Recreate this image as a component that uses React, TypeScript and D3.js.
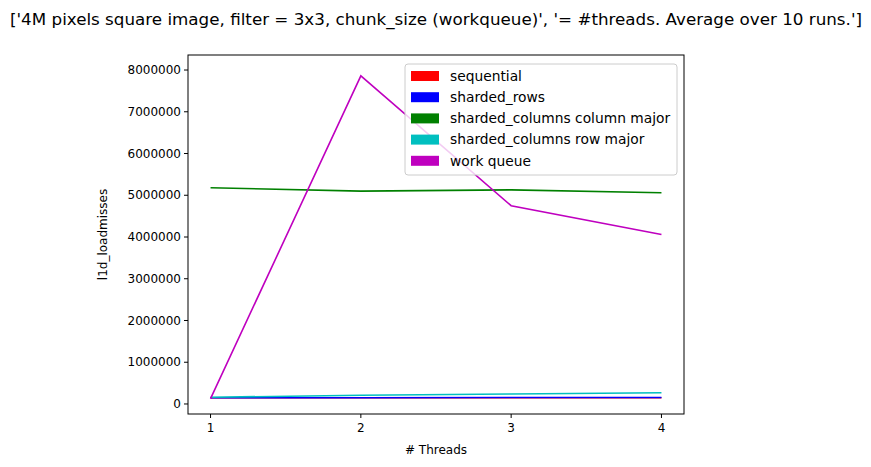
import React from 'react';
import * as d3 from 'd3';

const threads = [1, 2, 3, 4];
const sequential = [150000, 150000, 150000, 150000];
const shardedRows = [150000, 150000, 155000, 155000];
const colMajor = [5180000, 5100000, 5130000, 5060000];
const rowMajor = [160000, 210000, 240000, 270000];
const workQueue = [130000, 7860000, 4750000, 4060000];
const yTicks = [0, 1000000, 2000000, 3000000, 4000000, 5000000, 6000000, 7000000, 8000000];

const series = [
  { name: 'sequential', color: '#ff0000', values: sequential },
  { name: 'sharded_rows', color: '#0000ff', values: shardedRows },
  { name: 'sharded_columns column major', color: '#008000', values: colMajor },
  { name: 'sharded_columns row major', color: '#00bfbf', values: rowMajor },
  { name: 'work queue', color: '#bf00bf', values: workQueue },
];

const W = 871, H = 467;
const left = 188, right = 684, top = 55, bottom = 414;

export default function App() {
  const x = d3.scaleLinear().domain([0.85, 4.15]).range([left, right]);
  const y = d3.scaleLinear().domain([-240000, 8360000]).range([bottom, top]);
  const line = d3.line<number>().x((_, i) => x(threads[i])).y(d => y(d));
  const font = 'DejaVu Sans, sans-serif';
  return (
    <svg width={W} height={H} style={{ position: 'absolute', left: 0, top: 0 }} fontFamily={font}>
      <rect width={W} height={H} fill="#fff" />
      <text x={10} y={25} fontSize={16} textLength={852} lengthAdjust="spacingAndGlyphs">
        ['4M pixels square image, filter = 3x3, chunk_size (workqueue)', '= #threads. Average over 10 runs.']
      </text>
      {series.map(s => (
        <path key={s.name} d={line(s.values)!} fill="none" stroke={s.color} strokeWidth={1.6} />
      ))}
      <rect x={left} y={top} width={right - left} height={bottom - top} fill="none" stroke="#000" strokeWidth={1} />
      {yTicks.map(t => (
        <g key={t}>
          <line x1={left - 4} x2={left} y1={y(t)} y2={y(t)} stroke="#000" />
          <text x={left - 7} y={y(t)} dy="0.35em" textAnchor="end" fontSize={12}>{t}</text>
        </g>
      ))}
      {threads.map(t => (
        <g key={t}>
          <line x1={x(t)} x2={x(t)} y1={bottom} y2={bottom + 4} stroke="#000" />
          <text x={x(t)} y={bottom + 18} textAnchor="middle" fontSize={12}>{t}</text>
        </g>
      ))}
      <text x={(left + right) / 2} y={454} textAnchor="middle" fontSize={12}># Threads</text>
      <text transform={`translate(107,${(top + bottom) / 2}) rotate(-90)`} textAnchor="middle" fontSize={12}>l1d_loadmisses</text>
      <rect x={405} y={64} width={272} height={111} fill="#fff" fillOpacity={0.8} stroke="#ccc" rx={3} />
      {series.map((s, i) => (
        <g key={s.name} transform={`translate(411,${71 + i * 21.2})`}>
          <rect width={28} height={10} fill={s.color} />
          <text x={39} y={5} dy="0.35em" fontSize={13.8}>{s.name}</text>
        </g>
      ))}
    </svg>
  );
}
